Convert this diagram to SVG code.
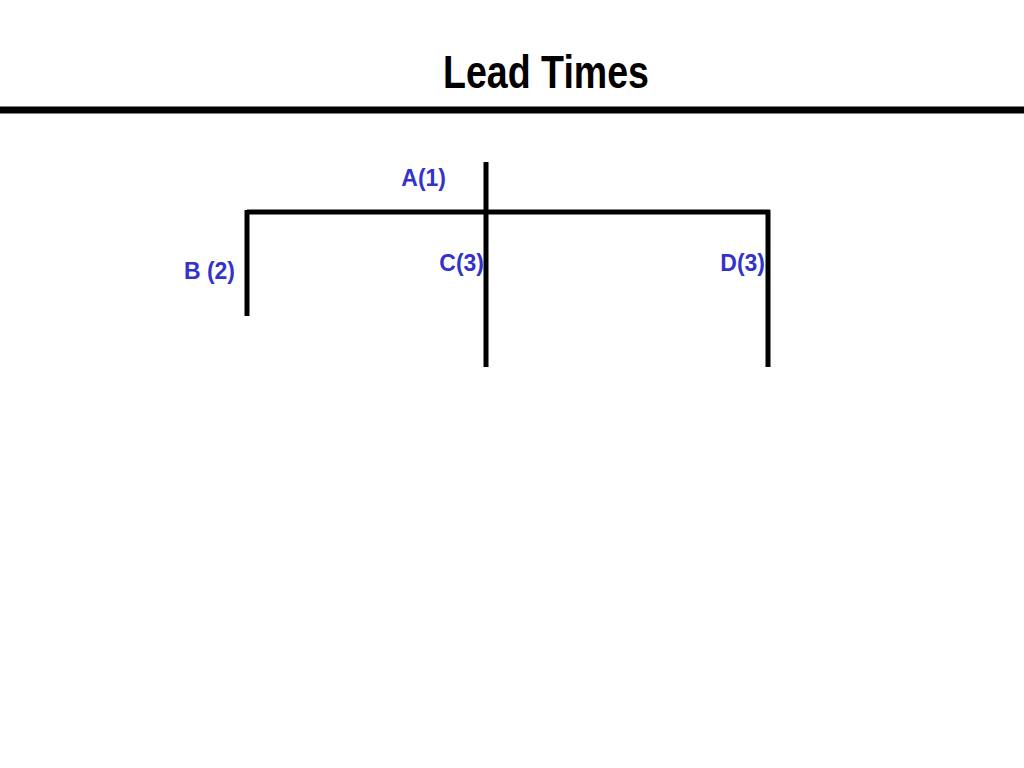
<svg xmlns="http://www.w3.org/2000/svg" width="1024" height="768" viewBox="0 0 1024 768">
<style>
.lbl{font-family:"Liberation Sans",Arial,sans-serif;font-weight:bold;font-size:23px;fill:#3333cc;text-anchor:end}
.ln{stroke:#000;stroke-width:5;fill:none}
</style>
<rect width="1024" height="768" fill="#fff"/>
<text x="546" y="88" text-anchor="middle" textLength="206" lengthAdjust="spacingAndGlyphs" font-family="'Liberation Sans',Arial,sans-serif" font-weight="bold" font-size="46" fill="#000">Lead Times</text>
<line x1="0" y1="110" x2="1024" y2="110" stroke="#000" stroke-width="7"/>
<g id="connectors">
<line class="ln" x1="486" y1="162" x2="486" y2="367"/>
<line class="ln" x1="247" y1="212" x2="770" y2="212"/>
<line class="ln" x1="247" y1="210" x2="247" y2="316"/>
<line class="ln" x1="768" y1="210" x2="768" y2="367"/>
</g>
<g id="A"><text class="lbl" x="446" y="186">A(1)</text></g>
<g id="B"><text class="lbl" x="235" y="279">B (2)</text></g>
<g id="C"><text class="lbl" x="484" y="271">C(3)</text></g>
<g id="D"><text class="lbl" x="765" y="271">D(3)</text></g>
</svg>
